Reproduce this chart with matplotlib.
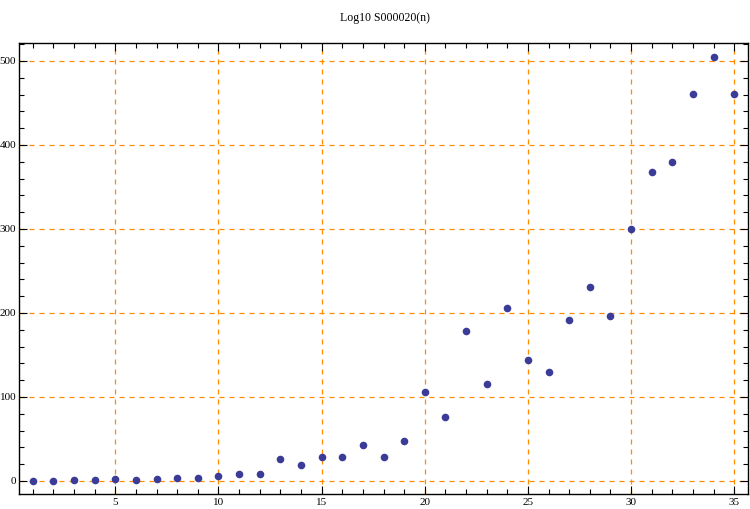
import matplotlib
matplotlib.use("Agg")
import matplotlib.pyplot as plt
from matplotlib.ticker import MultipleLocator

n = list(range(1, 36))
values = [0, 0, 1, 1, 2, 1, 2, 4, 4, 6,
          8.6, 8.6, 26, 18.7, 28, 28, 42.6, 28, 47.4, 106,
          76, 178, 115.5, 206, 144, 130, 191.7, 231, 196.4, 300,
          368, 380, 461, 505, 461]
title = "Log10 S000020(n)"

plt.rcParams['font.family'] = ['Liberation Serif', 'DejaVu Serif']

fig = plt.figure(figsize=(7.5, 5.09), dpi=100)
ax = fig.add_axes([19/750, 15/509, 729/750, 451/509])

ax.scatter(n, values, s=30, color='#3b3b98', zorder=3, linewidths=0)

ax.set_xlim(0.33, 35.67)
ax.set_ylim(-15.5, 521.4)

ax.xaxis.set_major_locator(MultipleLocator(5))
ax.xaxis.set_minor_locator(MultipleLocator(1))
ax.yaxis.set_major_locator(MultipleLocator(100))
ax.yaxis.set_minor_locator(MultipleLocator(20))

ax.tick_params(which='both', direction='in', top=True, right=True,
               labeltop=False, labelright=False, labelsize=8, width=0.8)
ax.tick_params(axis='y', pad=2)
ax.tick_params(axis='x', pad=3)
ax.tick_params(which='major', length=6)
ax.tick_params(which='minor', length=3.5)

ax.grid(True, which='major', color='#ff8c00', linestyle=(0, (4, 4)), linewidth=0.9)
ax.set_axisbelow(True)
for s in ax.spines.values():
    s.set_linewidth(1.0)

fig.text(385/750, 1 - 18/509, title, ha='center', va='center', fontsize=8.5)

fig.savefig("out.png", dpi=100)
